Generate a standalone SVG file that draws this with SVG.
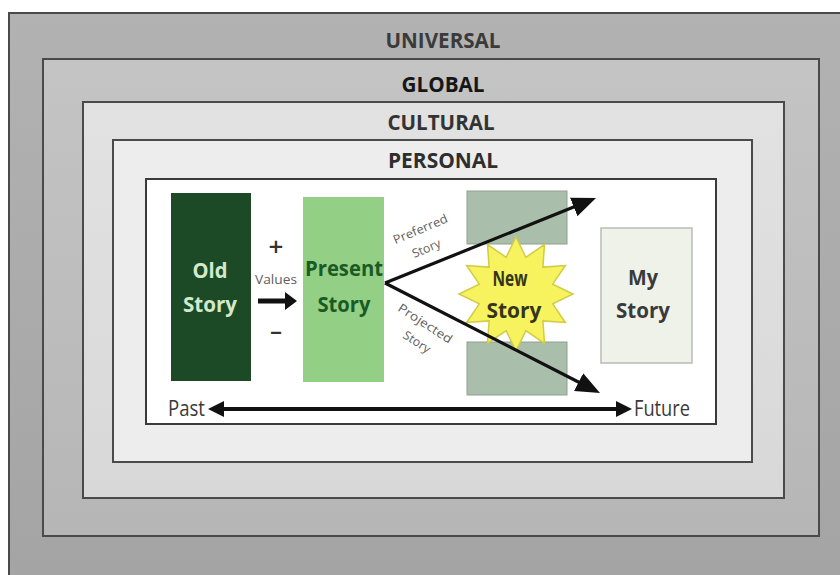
<svg xmlns="http://www.w3.org/2000/svg" width="840" height="575" viewBox="0 0 840 575">
  <style>
    .ring { stroke: #4a4a4a; stroke-width: 2; }
    .layer { font-family: "Open Sans", "Liberation Sans", sans-serif; font-weight: 700; font-size: 22px; text-anchor: middle; }
    .box-label { font-family: "Open Sans", "Liberation Sans", sans-serif; font-weight: 700; font-size: 22px; text-anchor: middle; }
    .small { font-family: "Open Sans", "Liberation Sans", sans-serif; font-size: 12px; fill: #5e5e5e; text-anchor: middle; }
    .time { font-family: "Open Sans", "Liberation Sans", sans-serif; font-size: 21px; fill: #3a3a3a; }
    .line { stroke: #111; fill: none; }
  </style>
  <defs>
    <linearGradient id="gUniversal" x1="0" y1="0" x2="0" y2="1">
      <stop offset="0" stop-color="#b2b2b2"/>
      <stop offset="1" stop-color="#a4a4a4"/>
    </linearGradient>
    <linearGradient id="gGlobal" x1="0" y1="0" x2="0" y2="1">
      <stop offset="0" stop-color="#c4c4c4"/>
      <stop offset="1" stop-color="#b6b6b6"/>
    </linearGradient>
    <linearGradient id="gCultural" x1="0" y1="0" x2="0" y2="1">
      <stop offset="0" stop-color="#e2e2e2"/>
      <stop offset="1" stop-color="#d8d8d8"/>
    </linearGradient>
    <marker id="bigHead" viewBox="0 0 24 20" refX="14" refY="10" markerWidth="24" markerHeight="20" markerUnits="userSpaceOnUse" orient="auto">
      <path d="M0,0 L24,10 L0,20 z" fill="#111"/>
    </marker>
    <marker id="timeHead" viewBox="0 0 16 16" refX="10" refY="8" markerWidth="16" markerHeight="16" markerUnits="userSpaceOnUse" orient="auto-start-reverse">
      <path d="M0,0 L16,8 L0,16 z" fill="#111"/>
    </marker>
    <marker id="valueHead" viewBox="0 0 12 18" refX="6" refY="9" markerWidth="12" markerHeight="18" markerUnits="userSpaceOnUse" orient="auto">
      <path d="M0,0 L12,9 L0,18 z" fill="#111"/>
    </marker>
  </defs>

  <rect width="840" height="575" fill="#ffffff"/>

  <!-- nested context layers -->
  <g id="universal">
    <rect class="ring" x="9" y="13" width="840" height="570" fill="url(#gUniversal)"/>
    <text class="layer" x="443" y="48" textLength="115" lengthAdjust="spacingAndGlyphs" fill="#3a3a3a">UNIVERSAL</text>
  </g>
  <g id="global">
    <rect class="ring" x="43" y="59" width="776" height="477" fill="url(#gGlobal)"/>
    <text class="layer" x="443" y="92" textLength="83" lengthAdjust="spacingAndGlyphs" fill="#161616">GLOBAL</text>
  </g>
  <g id="cultural">
    <rect class="ring" x="83" y="102" width="701" height="396" fill="url(#gCultural)"/>
    <text class="layer" x="441" y="130" textLength="107" lengthAdjust="spacingAndGlyphs" fill="#333333">CULTURAL</text>
  </g>
  <g id="personal">
    <rect class="ring" x="113" y="140" width="639" height="322" fill="#ededed"/>
    <text class="layer" x="443" y="168" textLength="110" lengthAdjust="spacingAndGlyphs" fill="#2e2e2e">PERSONAL</text>
  </g>
  <g id="story-frame">
    <rect x="146" y="179" width="570" height="245" fill="#ffffff" stroke="#3a3a3a" stroke-width="2"/>
  </g>

  <!-- story nodes -->
  <g id="old-story">
    <rect x="171" y="193" width="80" height="188" fill="#1c4a26"/>
    <text class="box-label" x="210" y="278" textLength="35" lengthAdjust="spacingAndGlyphs" fill="#d3e9cb">Old</text>
    <text class="box-label" x="210" y="312" textLength="54" lengthAdjust="spacingAndGlyphs" fill="#d3e9cb">Story</text>
  </g>
  <g id="present-story">
    <rect x="303" y="197" width="81" height="185" fill="#93cf84"/>
    <text class="box-label" x="344" y="276" textLength="78" lengthAdjust="spacingAndGlyphs" fill="#1b5a25">Present</text>
    <text class="box-label" x="344" y="312" textLength="53" lengthAdjust="spacingAndGlyphs" fill="#1b5a25">Story</text>
  </g>
  <g id="alternatives">
    <rect x="467" y="191" width="100" height="53" fill="#aabfab" stroke="#8f9f90" stroke-width="1"/>
    <rect x="467" y="342" width="100" height="53" fill="#aabfab" stroke="#8f9f90" stroke-width="1"/>
  </g>
  <g id="new-story">
    <polygon points="516,237 525.8,257.3 544.5,244.6 542.9,267.1 565.4,265.5 552.7,284.2 573,294 552.7,303.8 565.4,322.5 542.9,320.9 544.5,343.4 525.8,330.7 516,351 506.2,330.7 487.5,343.4 489.1,320.9 466.6,322.5 479.3,303.8 459,294 479.3,284.2 466.6,265.5 489.1,267.1 487.5,244.6 506.2,257.3" fill="#f6f35e" stroke="#d2cb45" stroke-width="1.5"/>
    <text class="box-label" x="510" y="286" textLength="35" lengthAdjust="spacingAndGlyphs" fill="#35351c" font-size="23">New</text>
    <text class="box-label" x="514" y="318" textLength="55" lengthAdjust="spacingAndGlyphs" fill="#35351c" font-size="23">Story</text>
  </g>
  <g id="my-story">
    <rect x="601" y="228" width="91" height="135" fill="#eef2e9" stroke="#b9bdb5" stroke-width="1.5"/>
    <text class="box-label" x="643" y="285" textLength="30" lengthAdjust="spacingAndGlyphs" fill="#3a3a3a">My</text>
    <text class="box-label" x="643" y="318" textLength="54" lengthAdjust="spacingAndGlyphs" fill="#3a3a3a">Story</text>
  </g>

  <!-- connectors -->
  <g id="connectors">
    <line class="line" x1="258" y1="301" x2="291" y2="301" stroke-width="5" marker-end="url(#valueHead)"/>
    <line class="line" x1="385" y1="283" x2="586.7" y2="201.7" stroke-width="3.2" marker-end="url(#bigHead)"/>
    <line class="line" x1="385" y1="283" x2="591.1" y2="388.5" stroke-width="3.2" marker-end="url(#bigHead)"/>
    <line class="line" x1="214" y1="409" x2="626" y2="409" stroke-width="4" marker-start="url(#timeHead)" marker-end="url(#timeHead)"/>
  </g>

  <!-- connector labels -->
  <g id="values-label">
    <text x="276" y="256" font-family="Open Sans, Liberation Sans, sans-serif" font-weight="600" font-size="26" text-anchor="middle" fill="#333">+</text>
    <text class="small" x="276" y="284" textLength="42" lengthAdjust="spacingAndGlyphs">Values</text>
    <text x="276" y="339" font-family="Open Sans, Liberation Sans, sans-serif" font-weight="600" font-size="24" text-anchor="middle" fill="#333">–</text>
  </g>
  <g id="preferred-label" transform="translate(422,233) rotate(-23)">
    <text class="small" x="0" y="0" font-size="13" textLength="58" lengthAdjust="spacingAndGlyphs">Preferred</text>
    <text class="small" x="-2" y="20" font-size="13" textLength="30" lengthAdjust="spacingAndGlyphs">Story</text>
  </g>
  <g id="projected-label" transform="translate(423,327) rotate(33)">
    <text class="small" x="0" y="0" font-size="13" textLength="62" lengthAdjust="spacingAndGlyphs">Projected</text>
    <text class="small" x="3" y="20" font-size="13" textLength="30" lengthAdjust="spacingAndGlyphs">Story</text>
  </g>
  <g id="timeline-labels">
    <text class="time" x="168" y="416" textLength="37" lengthAdjust="spacingAndGlyphs">Past</text>
    <text class="time" x="634" y="416" textLength="56" lengthAdjust="spacingAndGlyphs">Future</text>
  </g>
</svg>
